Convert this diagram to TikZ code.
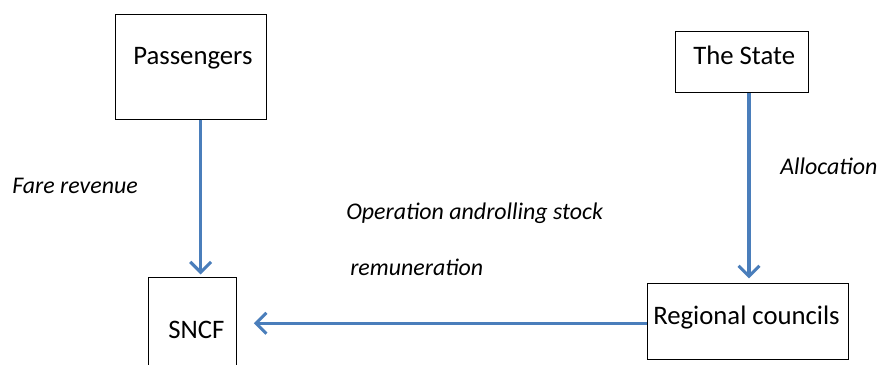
\documentclass[tikz,border=0pt]{standalone}
\usepackage{fontspec}
\setmainfont{Carlito}
\usetikzlibrary{arrows.meta}
\definecolor{flowColor}{RGB}{74,126,187}
\tikzset{>={Straight Barb[length=2.6mm,width=5.2mm]}}
\tikzset{
  box/.style={draw,line width=0.7pt,inner sep=0pt},
  flow/.style={->,flowColor,line width=2.2pt},
  boxtext/.style={anchor=base west,inner sep=0pt,font=\fontsize{19}{23}\selectfont},
  flowtext/.style={anchor=base west,inner sep=0pt,font=\fontsize{17}{20}\selectfont\itshape}
}

\begin{document}
\begin{tikzpicture}[x=0.025cm,y=-0.025cm]
    \useasboundingbox (0,0) rectangle (880,365);
    \clip (0,0) rectangle (880,365);

    % boxes
    \node[box,minimum width=3.76cm,minimum height=2.62cm] (pass) at (190.9,66.7) {};
    \node[box,minimum width=3.34cm,minimum height=1.525cm] (state) at (741.9,62.2) {};
    \node[box,minimum width=2.21cm,minimum height=2.44cm] (sncf) at (192.5,326.2) {};
    \node[box,minimum width=5.025cm,minimum height=1.9cm] (reg) at (747.8,321.3) {};

    \node[boxtext] (passText) at (133,65) {Passengers};
    \node[boxtext] (stateText) at (693,64.3) {The State};
    \node[boxtext] (sncfText) at (168,338.3) {SNCF};
    \node[boxtext] (regText) at (653,325) {Regional councils};

    % flows
    \coordinate (fareIn) at ([xshift=0.205cm,yshift=0.06cm]sncf.north);
    \draw[flow] (fareIn |- pass.south) -- (fareIn);
    \coordinate (allocIn) at ([xshift=0.03cm,yshift=0.11cm]reg.north);
    \draw[flow] (allocIn |- state.south) -- (allocIn);
    \coordinate (sncfIn) at ([xshift=0.415cm]sncf.east);
    \draw[flow] ([yshift=-0.05cm]reg.west) -- ([yshift=-0.05cm]reg.west -| sncfIn);

    \node[flowtext] (fareText) at (12,193.3) {Fare revenue};
    \node[flowtext] (allocText) at (780,175) {Allocation};
    \node[flowtext] (opText) at (346,219.3) {Operation androlling stock};
    \node[flowtext] (remText) at (350,276) {remuneration};

\end{tikzpicture}
\end{document}
